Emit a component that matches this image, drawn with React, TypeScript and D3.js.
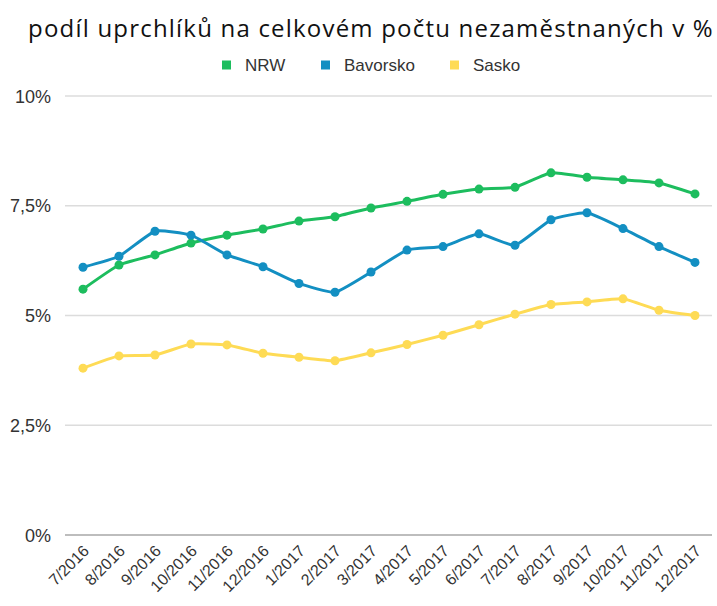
import React from 'react';
import * as d3 from 'd3';

// months on the x axis
const months = [
  '7/2016', '8/2016', '9/2016', '10/2016', '11/2016', '12/2016',
  '1/2017', '2/2017', '3/2017', '4/2017', '5/2017', '6/2017',
  '7/2017', '8/2017', '9/2017', '10/2017', '11/2017', '12/2017',
];

// share of refugees among unemployed, in %
const nrw = [5.6, 6.15, 6.38, 6.65, 6.83, 6.97, 7.15, 7.25, 7.45, 7.6, 7.76, 7.88, 7.92, 8.25, 8.15, 8.09, 8.02, 7.77];
const bavorsko = [6.1, 6.35, 6.92, 6.83, 6.38, 6.11, 5.73, 5.53, 5.99, 6.49, 6.57, 6.86, 6.6, 7.18, 7.34, 6.98, 6.57, 6.21];
const sasko = [3.8, 4.08, 4.1, 4.35, 4.33, 4.14, 4.05, 3.97, 4.15, 4.34, 4.55, 4.79, 5.03, 5.25, 5.31, 5.38, 5.12, 5.0];

const yTicks = [0, 2.5, 5, 7.5, 10];

const series = [
  { name: 'NRW', values: nrw, color: '#1dbd5e' },
  { name: 'Bavorsko', values: bavorsko, color: '#138fc2' },
  { name: 'Sasko', values: sasko, color: '#fedb55' },
];

const W = 717;
const H = 606;
const fmt = (v: number) => String(v).replace('.', ',') + '%';

export default function App() {
  const x = d3.scalePoint<string>().domain(months).range([83, 695]);
  const y = d3.scaleLinear().domain([0, 10]).range([535, 96]);
  const line = d3
    .line<number>()
    .x((_, i) => x(months[i]) as number)
    .y(d => y(d))
    .curve(d3.curveCardinal.tension(0.55));

  const legendX = [222, 321, 450];

  return (
    <svg
      width={W}
      height={H}
      style={{ position: 'absolute', left: 0, top: 0 }}
      fontFamily="'Liberation Sans', Arial, sans-serif"
    >
      <rect width={W} height={H} fill="#fff" />
      <text
        x={371}
        y={37}
        textAnchor="middle"
        fontFamily="'Open Sans', sans-serif"
        fontSize={24}
        fontWeight={500}
        letterSpacing={1.2}
        fill="#111"
      >
        podíl uprchlíků na celkovém počtu nezaměstnaných v %
      </text>

      {series.map((s, i) => (
        <g key={s.name} transform={`translate(${legendX[i]},65)`}>
          <rect x={0} y={-4.5} width={9} height={9} fill={s.color} />
          <text x={23} y={6} fontSize={17} fill="#333">
            {s.name}
          </text>
        </g>
      ))}

      {yTicks.map(t => (
        <g key={t}>
          <line
            x1={65}
            x2={712}
            y1={y(t)}
            y2={y(t)}
            stroke={t === 0 ? '#bdbdbd' : '#dcdcdc'}
            strokeWidth={t === 0 ? 2 : 1.5}
          />
          <text x={51} y={y(t) + 6.5} textAnchor="end" fontSize={18} fill="#333">
            {fmt(t)}
          </text>
        </g>
      ))}

      {months.map(m => (
        <text
          key={m}
          transform={`translate(${(x(m) as number) + 7},${552}) rotate(-45)`}
          textAnchor="end"
          fontSize={16}
          fill="#333"
        >
          {m}
        </text>
      ))}

      {series.map(s => (
        <g key={s.name}>
          <path d={line(s.values) || ''} fill="none" stroke={s.color} strokeWidth={3} />
          {s.values.map((v, i) => (
            <circle key={i} cx={x(months[i])} cy={y(v)} r={4.5} fill={s.color} />
          ))}
        </g>
      ))}
    </svg>
  );
}
